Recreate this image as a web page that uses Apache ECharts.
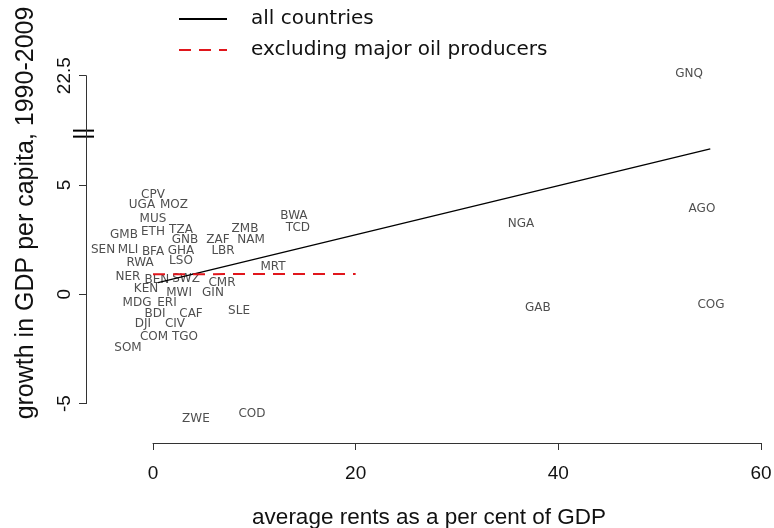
<!DOCTYPE html>
<html>
<head>
<meta charset="utf-8">
<script src="https://cdn.jsdelivr.net/npm/echarts@6/dist/echarts.min.js"></script>
<style>
  html, body { margin: 0; padding: 0; background: #ffffff; }
  #chart { width: 774px; height: 528px; }
</style>
</head>
<body>
<div id="chart"></div>
<script>
// Country codes with average resource rents (% of GDP) and growth in GDP per capita, 1990-2009
const countries = ['CPV','UGA','MOZ','MUS','ETH','TZA','GMB','GNB','ZAF','ZMB','NAM','SEN','MLI','BFA','GHA','LBR','RWA','LSO','MRT','NER','BEN','SWZ','CMR','KEN','MWI','GIN','MDG','ERI','BDI','CAF','SLE','DJI','CIV','COM','TGO','SOM','ZWE','COD','BWA','TCD','NGA','GAB','AGO','COG','GNQ'];
const rents = [0.0,-1.09,2.07,0.0,0.0,2.76,-2.86,3.16,6.41,9.08,9.67,-4.93,-2.47,0.0,2.76,6.91,-1.28,2.76,11.84,-2.47,0.39,3.26,6.81,-0.69,2.57,5.92,-1.58,1.38,0.20,3.75,8.49,-0.99,2.17,0.10,3.16,-2.47,4.24,9.77,13.91,14.31,36.32,37.99,54.18,55.07,52.90];
const growth = [4.54,4.08,4.08,3.44,2.85,2.94,2.71,2.49,2.49,2.99,2.49,2.03,2.03,1.94,1.98,1.98,1.46,1.52,1.25,0.79,0.65,0.70,0.52,0.24,0.06,0.06,-0.40,-0.40,-0.90,-0.90,-0.76,-1.36,-1.36,-1.95,-1.95,-2.46,-5.70,-5.48,3.58,3.04,3.24,-0.63,3.90,-0.49,22.6];

// Fitted lines: all countries, and excluding the major oil producers
const fitAllX = [0.5, 55];
const fitAllY = [0.53, 6.65];
const fitNoOilX = [0, 20];
const fitNoOilY = [0.92, 0.93];

// Axis ticks
const xTicks = [0, 20, 40, 60];
const yTicks = [-5, 0, 5, 22.5];

// The y axis is broken between 7.5 and 20: values above the break are shifted down
const BREAK_AT = 7.5;
const BREAK_SHIFT = 12.5;
const BREAK_MARK = 7.35;
const toDisplay = v => (v > BREAK_AT ? v - BREAK_SHIFT : v);
const fromDisplay = v => (v > BREAK_AT ? v + BREAK_SHIFT : v);

const legendNames = ['all countries', 'excluding major oil producers'];

const chart = echarts.init(document.getElementById('chart'), null, { renderer: 'canvas' });

const AXIS_COLOR = '#333333';
const TEXT_COLOR = '#111111';
const yTickDisplay = yTicks.map(toDisplay);

const option = {
  backgroundColor: '#ffffff',
  animation: false,
  legend: {
    data: legendNames,
    orient: 'vertical',
    left: 178,
    top: 9,
    padding: 0,
    itemWidth: 48,
    itemHeight: 14,
    itemGap: 11,
    selectedMode: false,
    itemStyle: { opacity: 0 },
    textStyle: { fontFamily: 'DejaVu Sans', fontSize: 20, color: TEXT_COLOR, padding: [0, 0, 0, 19] }
  },
  grid: [
    // plotting region
    { left: 82.07, width: 689.0, top: 53.84, height: 393.5, outerBoundsMode: 'none', containLabel: false },
    // x axis band
    { left: 153, width: 608, top: 400, height: 43, outerBoundsMode: 'none', containLabel: false },
    // y axis band
    { left: 86, width: 10, top: 75.7, height: 327.9, outerBoundsMode: 'none', containLabel: false }
  ],
  xAxis: [
    {
      gridIndex: 0, type: 'value', min: -7, max: 61, interval: 1,
      axisLine: { show: false }, axisTick: { show: false }, axisLabel: { show: false }, splitLine: { show: false },
      name: 'average rents as a per cent of GDP', nameLocation: 'middle', nameGap: 58.5,
      nameTextStyle: { fontFamily: 'Liberation Sans', fontSize: 22.5, color: TEXT_COLOR, padding: [0, 0, 0, 5] }
    },
    {
      gridIndex: 1, type: 'value', min: xTicks[0], max: xTicks[xTicks.length - 1], interval: xTicks[1] - xTicks[0],
      axisLine: { show: true, onZero: false, lineStyle: { color: AXIS_COLOR, width: 1 } },
      axisTick: { show: true, length: 7, lineStyle: { color: AXIS_COLOR } },
      axisLabel: { margin: 21, fontFamily: 'Liberation Sans', fontSize: 19, color: TEXT_COLOR },
      splitLine: { show: false }
    },
    { gridIndex: 2, type: 'value', show: false }
  ],
  yAxis: [
    {
      gridIndex: 0, type: 'value', min: -7, max: 11, interval: 1,
      axisLine: { show: false }, axisTick: { show: false }, axisLabel: { show: false }, splitLine: { show: false }
    },
    { gridIndex: 1, type: 'value', show: false },
    {
      gridIndex: 2, type: 'value', position: 'left',
      min: yTickDisplay[0], max: yTickDisplay[yTickDisplay.length - 1], interval: 5,
      axisLine: { show: true, onZero: false, lineStyle: { color: AXIS_COLOR, width: 1 } },
      axisTick: { show: true, length: 7, lineStyle: { color: AXIS_COLOR }, customValues: yTickDisplay },
      axisLabel: {
        rotate: 90, margin: 12, fontFamily: 'Liberation Sans', fontSize: 19, color: TEXT_COLOR,
        customValues: yTickDisplay,
        formatter: v => String(fromDisplay(v))
      },
      splitLine: { show: false }
    }
  ],
  series: [
    {
      name: 'countries',
      type: 'scatter',
      xAxisIndex: 0, yAxisIndex: 0,
      symbol: 'circle', symbolSize: 1,
      itemStyle: { color: 'rgba(0,0,0,0)' },
      silent: true,
      label: {
        show: true, position: 'inside', offset: [0, 1],
        fontFamily: 'DejaVu Sans', fontSize: 12, color: '#222222',
        formatter: p => p.data[2]
      },
      labelLayout: { hideOverlap: false },
      data: countries.map((c, i) => [rents[i], toDisplay(growth[i]), c])
    },
    {
      name: legendNames[0],
      type: 'line',
      xAxisIndex: 0, yAxisIndex: 0,
      symbol: 'none', silent: true,
      lineStyle: { color: '#000000', width: 1.3 },
      itemStyle: { color: '#000000' },
      data: fitAllX.map((x, i) => [x, fitAllY[i]])
    },
    {
      name: legendNames[1],
      type: 'line',
      xAxisIndex: 0, yAxisIndex: 0,
      symbol: 'none', silent: true,
      lineStyle: { color: '#e0161c', width: 2, type: [12, 8] },
      itemStyle: { color: '#e0161c' },
      data: fitNoOilX.map((x, i) => [x, fitNoOilY[i]])
    }
  ]
};

chart.setOption(option);

// Break marker on the y axis and the rotated y-axis title
const breakY = chart.convertToPixel({ yAxisIndex: 2 }, BREAK_MARK);
const axisPx = chart.getModel().getComponent('grid', 2).coordinateSystem.getRect().x;

chart.setOption({
  graphic: [
    { type: 'line', shape: { x1: axisPx - 13, y1: breakY - 3, x2: axisPx + 8, y2: breakY - 3 }, style: { stroke: '#000', lineWidth: 2 } },
    { type: 'line', shape: { x1: axisPx - 13, y1: breakY + 3, x2: axisPx + 8, y2: breakY + 3 }, style: { stroke: '#000', lineWidth: 2 } },
    {
      type: 'text', x: 26, y: 213, rotation: Math.PI / 2,
      style: {
        text: 'growth in GDP per capita, 1990-2009',
        fontFamily: 'Liberation Sans', fontSize: 25, fill: TEXT_COLOR,
        align: 'center', verticalAlign: 'middle'
      }
    }
  ]
});
</script>
</body>
</html>
